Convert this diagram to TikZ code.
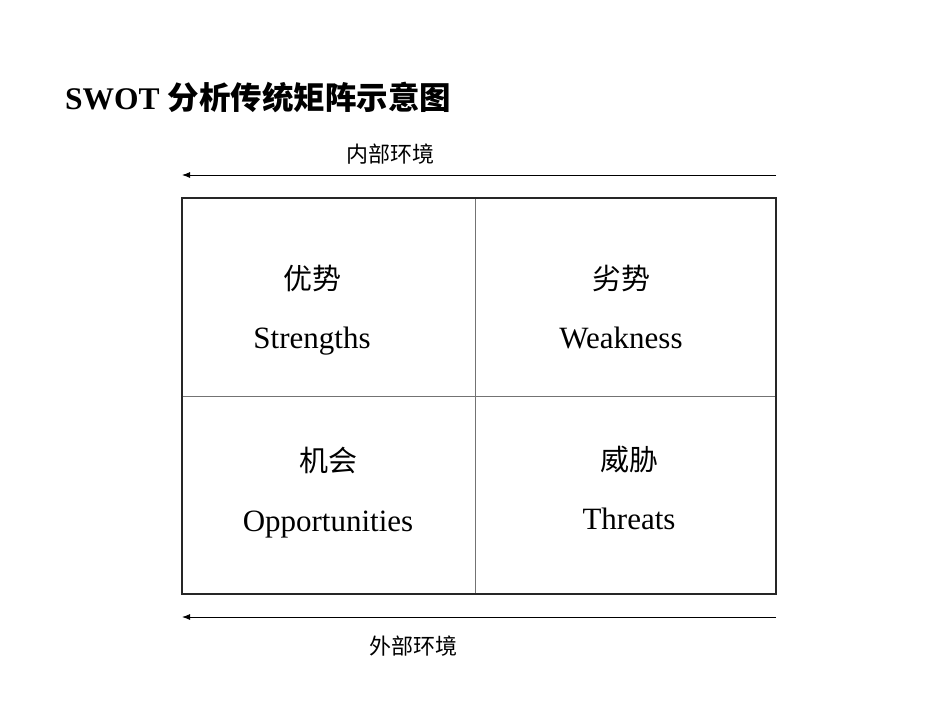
\documentclass[tikz,border=0pt]{standalone}
\usepackage{fontspec}
\setmainfont{Liberation Serif}
\newfontfamily\cjk{Noto Sans CJK SC}
\newfontfamily\cjkb{Noto Sans CJK SC Bold}
\usetikzlibrary{arrows.meta}
\begin{document}
\begin{tikzpicture}[x=1pt,y=-1pt,
  lbl/.style={inner sep=0pt, anchor=center},
  cn/.style={lbl, font=\fontsize{29}{32}\selectfont\cjk},
  en/.style={inner sep=0pt, anchor=base, font=\fontsize{31}{34}\selectfont},
  env/.style={lbl, font=\fontsize{22}{26}\selectfont\cjk},
  envarrow/.style={line width=0.9pt, -{Latex[length=8pt,width=6pt]}},
  outer/.style={line width=1.3pt, draw=black!85},
  inner/.style={line width=0.8pt, draw=black!55}]
\useasboundingbox (0,0) rectangle (950,713);
% title
\node[lbl, anchor=west, font=\fontsize{31.5}{36}\selectfont\bfseries] (title) at (65,97) {SWOT {\cjkb 分析传统矩阵示意图}};
% arrows
\coordinate (t1) at (776,175);
\coordinate (t0) at (182,175);
\coordinate (b1) at (776,617);
\coordinate (b0) at (182,617);
\draw[envarrow] (t1) -- (t0);
\draw[envarrow] (b1) -- (b0);
\node[env] (inEnv) at (390,154) {内部环境};
\node[env] (outEnv) at (413,646) {外部环境};
% grid
\draw[inner] (475,198) -- (475,594);
\draw[inner] (182,396) -- (776,396);
\draw[outer] (182,198) rectangle (776,594);
% cells
\node[cn] (s1) at (312,278) {优势};
\node[en] (s2) at (312,348) {Strengths};
\node[cn] (w1) at (621,278) {劣势};
\node[en] (w2) at (621,348) {Weakness};
\node[cn] (o1) at (328,460) {机会};
\node[en] (o2) at (328,531) {Opportunities};
\node[cn] (th1) at (629,459) {威胁};
\node[en] (th2) at (629,529) {Threats};
\end{tikzpicture}
\end{document}
